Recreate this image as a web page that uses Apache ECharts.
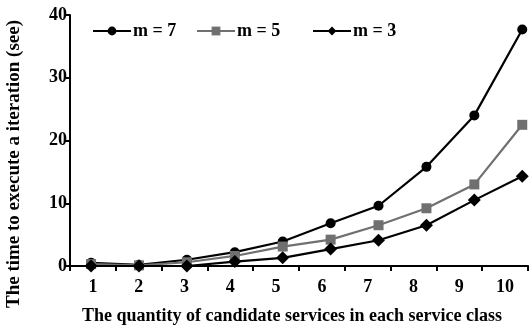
<!DOCTYPE html>
<html><head><meta charset="utf-8">
<script src="https://cdn.jsdelivr.net/npm/echarts@6/dist/echarts.min.js"></script>
<style>html,body{margin:0;padding:0;background:#fff}#c{width:530px;height:329px}</style>
</head><body><div id="c"></div>
<script>
const categories = ['1','2','3','4','5','6','7','8','9','10'];
const xValues = [1,2,3,4,5,6,7,8,9,10];
const m7 = [0.5, 0.2, 1.0, 2.2, 3.9, 6.8, 9.6, 15.8, 24.0, 37.7];
const m5 = [0.3, 0.1, 0.6, 1.6, 3.1, 4.2, 6.5, 9.2, 13.0, 22.5];
const m3 = [0, 0, 0, 0.7, 1.3, 2.7, 4.1, 6.5, 10.5, 14.3];
const seriesNames = ['m = 7', 'm = 5', 'm = 3'];
const yTicks = [0, 10, 20, 30, 40];
const xTitle = 'The quantity of candidate services in each service class';
const yTitle = 'The time to execute a iteration (see)';

const font = 'Liberation Serif';
const pair = arr => arr.map((v, i) => [xValues[i], v]);
const legendLefts = [87, 191, 307];
const chart = echarts.init(document.getElementById('c'), null, {renderer: 'canvas'});
chart.setOption({
  animation: false,
  backgroundColor: '#fff',
  grid: {left: 70, right: 2, top: 15, bottom: 63, containLabel: false},
  legend: seriesNames.map((n, i) => ({
    left: legendLefts[i], top: 17, itemWidth: 38, itemHeight: 11,
    textStyle: {fontFamily: font, fontWeight: 'bold', fontSize: 18, color: '#000', padding: [0,0,0,-3]},
    data: [n]
  })),
  xAxis: [{
    type: 'category', data: categories, boundaryGap: true,
    axisLine: {lineStyle: {color: '#000', width: 2}},
    axisTick: {show: true, length: 5, lineStyle: {color: '#000', width: 2}},
    axisLabel: {fontFamily: font, fontWeight: 'bold', fontSize: 18, color: '#000', margin: 12}
  }, {
    type: 'value', min: 0.56, max: 10.12, show: false
  }],
  yAxis: {
    type: 'value', min: yTicks[0], max: yTicks[yTicks.length - 1], interval: 10,
    axisLine: {show: true, lineStyle: {color: '#000', width: 2}},
    axisTick: {show: true, length: 5, lineStyle: {color: '#000', width: 2}},
    splitLine: {show: false},
    axisLabel: {fontFamily: font, fontWeight: 'bold', fontSize: 18, color: '#000', margin: 3}
  },
  graphic: [
    {type: 'text', x: 292, y: 307, style: {text: xTitle, fontFamily: font, fontWeight: 'bold', fontSize: 18, fill: '#000', align: 'center'}},
    {type: 'text', x: 5, y: 164, rotation: Math.PI / 2, style: {text: yTitle, fontFamily: font, fontWeight: 'bold', fontSize: 19, fill: '#000', align: 'center', verticalAlign: 'top'}}
  ],
  series: [
    {name: seriesNames[0], type: 'line', xAxisIndex: 1, data: pair(m7), symbol: 'circle', symbolSize: 10, clip: false,
     lineStyle: {color: '#000', width: 2.2}, itemStyle: {color: '#000'}},
    {name: seriesNames[1], type: 'line', xAxisIndex: 1, data: pair(m5), symbol: 'rect', symbolSize: 10, clip: false,
     lineStyle: {color: '#707070', width: 2.2}, itemStyle: {color: '#707070'}},
    {name: seriesNames[2], type: 'line', xAxisIndex: 1, data: pair(m3), symbol: 'diamond', symbolSize: 13, clip: false,
     lineStyle: {color: '#000', width: 2.2}, itemStyle: {color: '#000'}}
  ]
});
</script></body></html>
